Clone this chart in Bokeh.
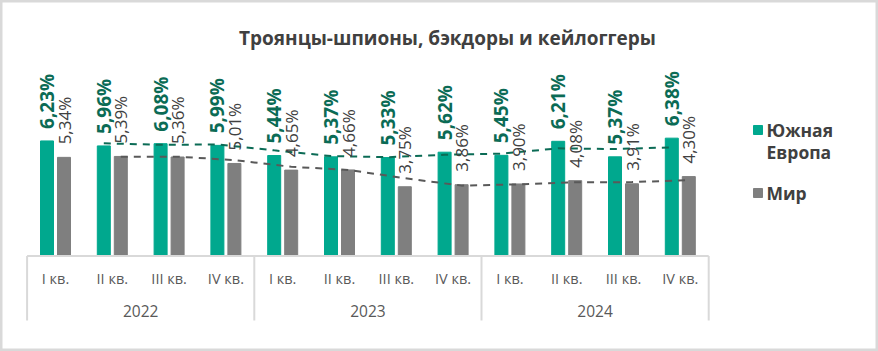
from math import pi
from bokeh.plotting import figure
from bokeh.models import Range1d, ColumnDataSource
from bokeh.core.properties import value
from bokeh.embed import file_html
from bokeh.resources import INLINE

# ---------------- data ----------------
title = "Троянцы-шпионы, бэкдоры и кейлоггеры"
quarters = ["I кв.", "II кв.", "III кв.", "IV кв."] * 3
years = ["2022", "2023", "2024"]
series_names = ["Южная\nЕвропа", "Мир"]
south_europe = [6.23, 5.96, 6.08, 5.99, 5.44, 5.37, 5.33, 5.62, 5.45, 6.21, 5.37, 6.38]
world = [5.34, 5.39, 5.36, 5.01, 4.65, 4.66, 3.75, 3.86, 3.90, 4.08, 3.91, 4.30]
# 2-period moving-average trend lines (from the second quarter on)
south_europe_trend = [6.10, 6.02, 6.04, 5.72, 5.41, 5.35, 5.48, 5.54, 5.83, 5.79, 5.88]
world_trend = [5.37, 5.38, 5.19, 4.83, 4.66, 4.21, 3.81, 3.88, 3.99, 4.00, 4.11]

# ---------------- layout ----------------
W, H = 878, 351
X0, DX = 55.0, 56.8        # pixel of first group centre, pixels per group
Y0, DY = 255.5, 18.47      # pixel of zero line, pixels per percent


def px(x):
    return (x - X0) / DX


def py(y):
    return (Y0 - y) / DY


GREEN = "#00A88E"
GREEN_DARK = "#0B6B55"
GRAY = "#7F7F7F"
GRAY_DARK = "#595959"
TXT = "#404040"
FONT = "Open Sans"

p = figure(width=W, height=H, output_backend="svg", toolbar_location=None,
           x_range=Range1d(px(0), px(W)), y_range=Range1d(py(H), py(0)),
           min_border=0, min_border_left=0, min_border_right=0,
           min_border_top=0, min_border_bottom=0)
p.axis.visible = False
p.grid.visible = False
p.background_fill_color = "white"
p.border_fill_color = "white"
p.outline_line_color = "#D9D9D9"
p.outline_line_width = 4

n = len(south_europe)
idx = list(range(n))
off = 8.5 / DX
bw = 13.0 / DX

src = ColumnDataSource(dict(
    xg=[i - off for i in idx], xw=[i + off for i in idx],
    g=south_europe, w=world,
    gl=[f"{v:.2f}".replace(".", ",") + "%" for v in south_europe],
    wl=[f"{v:.2f}".replace(".", ",") + "%" for v in world],
))

p.vbar(x="xg", top="g", bottom=0, width=bw, color=GREEN, source=src)
p.vbar(x="xw", top="w", bottom=0, width=bw, color=GRAY, source=src)

# trend lines
p.line([i - off for i in idx[1:]], south_europe_trend, line_color=GREEN_DARK,
       line_width=2, line_dash="7 6")
p.line([i + off for i in idx[1:]], world_trend, line_color=GRAY_DARK,
       line_width=2, line_dash="7 6")

# data labels
p.text(x="xg", y="g", text="gl", source=src, angle=pi / 2, text_align="left",
       text_baseline="middle", y_offset=-12, text_font=value(FONT),
       text_font_size="19px", text_font_style="bold", text_color=GREEN_DARK)
p.text(x="xw", y="w", text="wl", source=src, angle=pi / 2, text_align="left",
       text_baseline="middle", y_offset=-13, text_font=value(FONT),
       text_font_size="17px", text_color=TXT)

# category axis (two levels) with separators
p.segment(x0=[-0.5], y0=[0], x1=[n - 0.5], y1=[0], line_color="#D9D9D9", line_width=2)
sep_x = [-0.5 + 4 * k for k in range(len(years) + 1)]
p.segment(x0=sep_x, y0=[0] * len(sep_x), x1=sep_x, y1=[py(320)] * len(sep_x),
          line_color="#D9D9D9", line_width=2)
p.text(x=idx, y=[py(278)] * n, text=quarters, text_align="center",
       text_baseline="middle", text_font=value(FONT), text_font_size="14.5px",
       text_color=GRAY_DARK)
p.text(x=[1.5 + 4 * k for k in range(len(years))], y=[py(310)] * len(years),
       text=years, text_align="center", text_baseline="middle",
       text_font=value(FONT), text_font_size="15.5px", text_color=GRAY_DARK)

# title
p.text(x=[px(447)], y=[py(37)], text=[title], text_align="center",
       text_baseline="middle", text_font=value(FONT), text_font_size="19px",
       text_font_style="bold", text_color=TXT)

# legend
p.scatter(x=[px(757.5)], y=[py(129.5)], marker="square", size=9,
          color=GREEN)
p.scatter(x=[px(757.5)], y=[py(192.5)], marker="square", size=9,
          color=GRAY)
p.text(x=[px(766)] * 2, y=[py(129), py(151)], text=series_names[0].split("\n"),
       text_align="left", text_baseline="middle", text_font=value(FONT),
       text_font_size="17.5px", text_font_style="bold", text_color=TXT)
p.text(x=[px(766)], y=[py(192)], text=[series_names[1]],
       text_align="left", text_baseline="middle", text_font=value(FONT),
       text_font_size="17.5px", text_font_style="bold", text_color=TXT)

open("out.html", "w").write(file_html(p, INLINE))
